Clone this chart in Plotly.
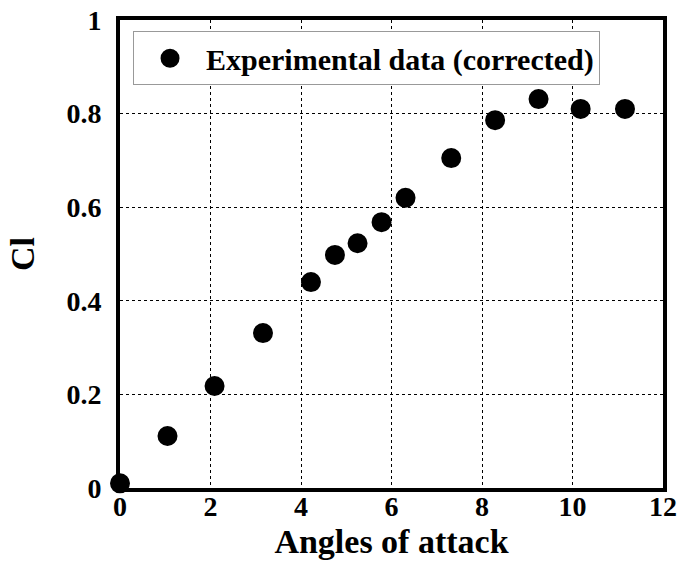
import plotly.graph_objects as go

angles = [0.0, 1.05, 2.09, 3.16, 4.22, 4.75, 5.25, 5.78, 6.31, 7.32, 8.29, 9.25, 10.18, 11.16]
cl = [0.01, 0.111, 0.218, 0.331, 0.44, 0.498, 0.523, 0.568, 0.62, 0.705, 0.786, 0.831, 0.81, 0.81]
x_ticks = [0, 2, 4, 6, 8, 10, 12]
y_ticks = [0, 0.2, 0.4, 0.6, 0.8, 1]
y_tick_labels = ["0", "0.2", "0.4", "0.6", "0.8", "1"]

FONT = "Liberation Serif"

fig = go.Figure()
fig.add_trace(go.Scatter(
    x=angles, y=cl, mode="markers",
    name="Experimental data (corrected)",
    marker=dict(color="black", size=17, line=dict(width=3, color="black")),
    cliponaxis=False,
))

axis_common = dict(
    showline=True, mirror=True, linecolor="black", linewidth=4,
    showgrid=True, gridcolor="black", gridwidth=1, griddash="dot",
    zeroline=False, ticks="", automargin=False,
    tickfont=dict(family=FONT, size=28, color="black", weight="bold"),
)

fig.update_layout(
    width=677, height=563,
    margin=dict(l=120, r=14, t=20, b=75),
    paper_bgcolor="white", plot_bgcolor="white",
    showlegend=True,
    legend=dict(
        x=0.024, y=0.976, xanchor="left", yanchor="top",
        bgcolor="white", bordercolor="#999999", borderwidth=1,
        font=dict(family=FONT, size=30, color="black", weight="bold"),
        itemsizing="trace", itemwidth=62,
    ),
    xaxis=dict(
        range=[0, 12], tickvals=x_ticks, ticklabelstandoff=-10,
        title=dict(text="Angles of attack", standoff=10,
                   font=dict(family=FONT, size=34, color="black", weight="bold")),
        **axis_common,
    ),
    yaxis=dict(
        range=[0, 1], tickvals=y_ticks, ticktext=y_tick_labels, ticklabelstandoff=9,
        title=dict(text="Cl", standoff=23,
                   font=dict(family=FONT, size=34, color="black", weight="bold")),
        **axis_common,
    ),
)

fig.write_html("out.html")
